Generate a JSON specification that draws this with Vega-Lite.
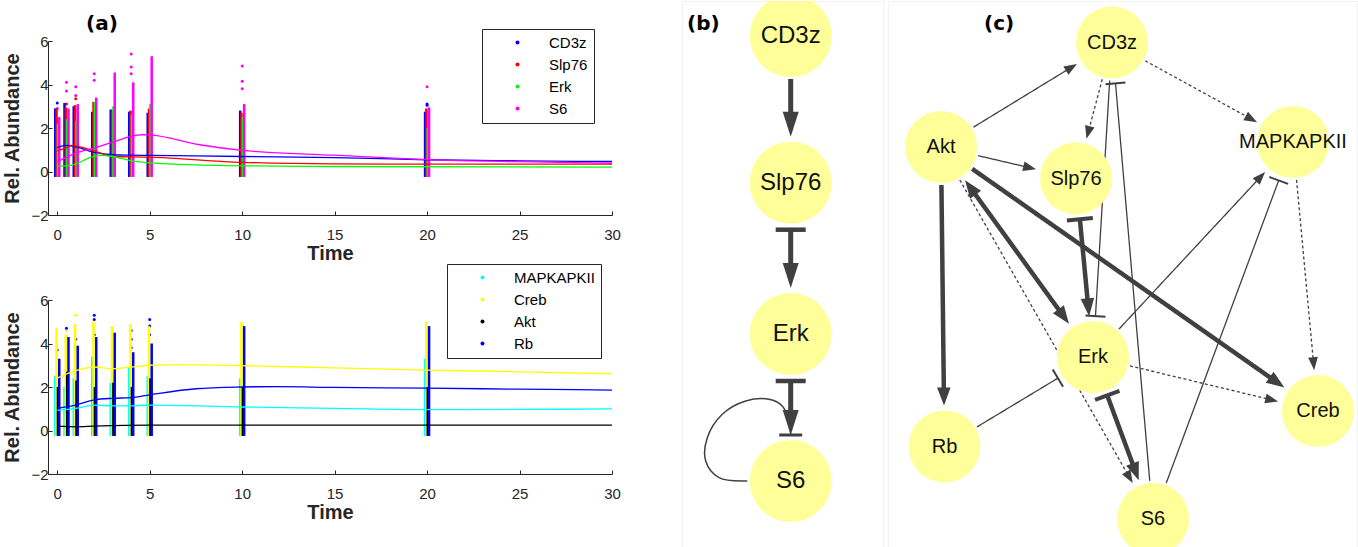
{
  "$schema": "https://vega.github.io/schema/vega-lite/v6.json",
  "background": "white",
  "padding": {"left": 2, "top": 0, "right": 0, "bottom": 0},
  "autosize": {"type": "pad"},
  "config": {
    "view": {"stroke": null},
    "axis": {"grid": false, "domainColor": "#262626", "tickColor": "#262626", "labelColor": "#262626", "titleColor": "#262626", "labelFont": "Liberation Sans", "titleFont": "Liberation Sans", "labelFontSize": 15, "titleFontSize": 20, "titleFontWeight": "bold", "tickSize": -4, "labelFlush": false},
    "axisX": {"labelPadding": 16, "titlePadding": 1},
    "axisY": {"labelPadding": 4, "titlePadding": 8},
    "legend": {"strokeColor": "#262626", "fillColor": "white", "padding": 6, "rowPadding": 6, "symbolType": "circle", "symbolSize": 16, "symbolOffset": 22, "labelOffset": 24, "labelFontSize": 15, "labelFont": "Liberation Sans", "labelColor": "black", "symbolStrokeWidth": 0, "cornerRadius": 0},
    "title": {"font": "DejaVu Sans", "fontSize": 20, "fontWeight": "bold", "color": "black", "anchor": "start", "baseline": "alphabetic", "offset": -33}
  },
  "datasets": {
    "top_strips": [
      {"species": "CD3z", "time": 0, "lo": -0.25, "hi": 2.9}, {"species": "CD3z", "time": 0.5, "lo": -0.25, "hi": 3.15}, {"species": "CD3z", "time": 1, "lo": -0.25, "hi": 3.0}, {"species": "CD3z", "time": 2, "lo": -0.25, "hi": 2.75}, {"species": "CD3z", "time": 3, "lo": -0.25, "hi": 2.85}, {"species": "CD3z", "time": 4, "lo": -0.25, "hi": 2.75}, {"species": "CD3z", "time": 5, "lo": -0.25, "hi": 2.7}, {"species": "CD3z", "time": 10, "lo": -0.25, "hi": 2.8}, {"species": "CD3z", "time": 20, "lo": -0.25, "hi": 2.75},
      {"species": "Slp76", "time": 0, "lo": -0.25, "hi": 2.9}, {"species": "Slp76", "time": 0.5, "lo": -0.25, "hi": 2.95}, {"species": "Slp76", "time": 1, "lo": -0.25, "hi": 3.05}, {"species": "Slp76", "time": 2, "lo": -0.25, "hi": 3.2}, {"species": "Slp76", "time": 3, "lo": -0.25, "hi": 2.8}, {"species": "Slp76", "time": 4, "lo": -0.25, "hi": 2.8}, {"species": "Slp76", "time": 5, "lo": -0.25, "hi": 2.9}, {"species": "Slp76", "time": 10, "lo": -0.25, "hi": 2.7}, {"species": "Slp76", "time": 20, "lo": -0.25, "hi": 2.9},
      {"species": "Erk", "time": 0, "lo": -0.25, "hi": 2.2}, {"species": "Erk", "time": 0.5, "lo": -0.25, "hi": 2.4}, {"species": "Erk", "time": 1, "lo": -0.25, "hi": 2.3}, {"species": "Erk", "time": 2, "lo": -0.25, "hi": 3.2}, {"species": "Erk", "time": 3, "lo": -0.25, "hi": 3.0}, {"species": "Erk", "time": 4, "lo": -0.25, "hi": 2.6}, {"species": "Erk", "time": 5, "lo": -0.25, "hi": 3.1}, {"species": "Erk", "time": 10, "lo": -0.25, "hi": 2.5}, {"species": "Erk", "time": 20, "lo": -0.25, "hi": 2.0},
      {"species": "S6", "time": 0, "lo": -0.25, "hi": 2.5}, {"species": "S6", "time": 0.5, "lo": -0.25, "hi": 2.9}, {"species": "S6", "time": 1, "lo": -0.25, "hi": 3.1}, {"species": "S6", "time": 2, "lo": -0.25, "hi": 3.4}, {"species": "S6", "time": 3, "lo": -0.25, "hi": 4.55}, {"species": "S6", "time": 4, "lo": -0.25, "hi": 4.1}, {"species": "S6", "time": 5, "lo": -0.25, "hi": 5.3}, {"species": "S6", "time": 10, "lo": -0.25, "hi": 3.1}, {"species": "S6", "time": 20, "lo": -0.25, "hi": 2.95}
    ],
    "top_pts": [
      {"species": "CD3z", "time": 0, "value": 3.15}, {"species": "CD3z", "time": 2, "value": 3.1}, {"species": "CD3z", "time": 2, "value": 3.0}, {"species": "CD3z", "time": 20, "value": 3.1}, {"species": "CD3z", "time": 20, "value": 3.05},
      {"species": "Slp76", "time": 0.5, "value": 3.1}, {"species": "Slp76", "time": 1, "value": 3.35},
      {"species": "S6", "time": 0, "value": 2.9}, {"species": "S6", "time": 0.5, "value": 3.7}, {"species": "S6", "time": 0.5, "value": 4.1}, {"species": "S6", "time": 1, "value": 3.5}, {"species": "S6", "time": 1, "value": 3.9}, {"species": "S6", "time": 2, "value": 4.2}, {"species": "S6", "time": 2, "value": 4.5}, {"species": "S6", "time": 4, "value": 4.5}, {"species": "S6", "time": 4, "value": 4.8}, {"species": "S6", "time": 4, "value": 5.4}, {"species": "S6", "time": 10, "value": 3.8}, {"species": "S6", "time": 10, "value": 4.15}, {"species": "S6", "time": 10, "value": 4.85}, {"species": "S6", "time": 20, "value": 3.9}
    ],
    "top_fit": [
      {"species": "CD3z", "time": 0, "value": 1.1}, {"species": "CD3z", "time": 0.5, "value": 1.2}, {"species": "CD3z", "time": 1, "value": 1.13}, {"species": "CD3z", "time": 2, "value": 0.88}, {"species": "CD3z", "time": 3, "value": 0.77}, {"species": "CD3z", "time": 4, "value": 0.75}, {"species": "CD3z", "time": 5, "value": 0.74}, {"species": "CD3z", "time": 10, "value": 0.69}, {"species": "CD3z", "time": 15, "value": 0.64}, {"species": "CD3z", "time": 20, "value": 0.54}, {"species": "CD3z", "time": 25, "value": 0.49}, {"species": "CD3z", "time": 30, "value": 0.46},
      {"species": "Slp76", "time": 0, "value": 0.95}, {"species": "Slp76", "time": 0.5, "value": 1.1}, {"species": "Slp76", "time": 0.8, "value": 1.2}, {"species": "Slp76", "time": 1.3, "value": 1.12}, {"species": "Slp76", "time": 2, "value": 0.95}, {"species": "Slp76", "time": 3, "value": 0.69}, {"species": "Slp76", "time": 5, "value": 0.66}, {"species": "Slp76", "time": 10, "value": 0.42}, {"species": "Slp76", "time": 15, "value": 0.35}, {"species": "Slp76", "time": 20, "value": 0.34}, {"species": "Slp76", "time": 30, "value": 0.34},
      {"species": "Erk", "time": 0, "value": 0.25}, {"species": "Erk", "time": 0.5, "value": 0.26}, {"species": "Erk", "time": 1, "value": 0.34}, {"species": "Erk", "time": 1.7, "value": 0.62}, {"species": "Erk", "time": 2.3, "value": 0.74}, {"species": "Erk", "time": 3, "value": 0.69}, {"species": "Erk", "time": 4, "value": 0.49}, {"species": "Erk", "time": 5, "value": 0.4}, {"species": "Erk", "time": 10, "value": 0.26}, {"species": "Erk", "time": 15, "value": 0.23}, {"species": "Erk", "time": 30, "value": 0.2},
      {"species": "S6", "time": 0, "value": 0.46}, {"species": "S6", "time": 0.5, "value": 0.65}, {"species": "S6", "time": 1, "value": 0.85}, {"species": "S6", "time": 2, "value": 1.08}, {"species": "S6", "time": 3, "value": 1.35}, {"species": "S6", "time": 4, "value": 1.62}, {"species": "S6", "time": 4.6, "value": 1.69}, {"species": "S6", "time": 5, "value": 1.68}, {"species": "S6", "time": 7.7, "value": 1.23}, {"species": "S6", "time": 10, "value": 0.97}, {"species": "S6", "time": 15, "value": 0.75}, {"species": "S6", "time": 20, "value": 0.55}, {"species": "S6", "time": 25, "value": 0.45}, {"species": "S6", "time": 30, "value": 0.38}
    ],
    "bot_strips": [
      {"species": "MAPKAPKII", "time": 0, "lo": -0.25, "hi": 2.5}, {"species": "MAPKAPKII", "time": 0.5, "lo": -0.25, "hi": 2.0}, {"species": "MAPKAPKII", "time": 1, "lo": -0.25, "hi": 2.4}, {"species": "MAPKAPKII", "time": 2, "lo": -0.25, "hi": 3.4}, {"species": "MAPKAPKII", "time": 3, "lo": -0.25, "hi": 2.2}, {"species": "MAPKAPKII", "time": 4, "lo": -0.25, "hi": 2.9}, {"species": "MAPKAPKII", "time": 5, "lo": -0.25, "hi": 2.5}, {"species": "MAPKAPKII", "time": 10, "lo": -0.25, "hi": 2.4}, {"species": "MAPKAPKII", "time": 20, "lo": -0.25, "hi": 3.3},
      {"species": "Creb", "time": 0, "lo": -0.25, "hi": 4.7}, {"species": "Creb", "time": 0.5, "lo": -0.25, "hi": 4.4}, {"species": "Creb", "time": 1, "lo": -0.25, "hi": 4.9}, {"species": "Creb", "time": 2, "lo": -0.25, "hi": 5.0}, {"species": "Creb", "time": 3, "lo": -0.25, "hi": 4.8}, {"species": "Creb", "time": 4, "lo": -0.25, "hi": 4.9}, {"species": "Creb", "time": 5, "lo": -0.25, "hi": 4.8}, {"species": "Creb", "time": 10, "lo": -0.25, "hi": 5.0}, {"species": "Creb", "time": 20, "lo": -0.25, "hi": 5.0},
      {"species": "Akt", "time": 0, "lo": -0.25, "hi": 2.0}, {"species": "Akt", "time": 0.5, "lo": -0.25, "hi": 2.7}, {"species": "Akt", "time": 1, "lo": -0.25, "hi": 2.3}, {"species": "Akt", "time": 2, "lo": -0.25, "hi": 2.0}, {"species": "Akt", "time": 3, "lo": -0.25, "hi": 2.2}, {"species": "Akt", "time": 4, "lo": -0.25, "hi": 2.0}, {"species": "Akt", "time": 5, "lo": -0.25, "hi": 2.4}, {"species": "Akt", "time": 10, "lo": -0.25, "hi": 2.0}, {"species": "Akt", "time": 20, "lo": -0.25, "hi": 2.0},
      {"species": "Rb", "time": 0, "lo": -0.25, "hi": 3.3}, {"species": "Rb", "time": 0.5, "lo": -0.25, "hi": 4.3}, {"species": "Rb", "time": 1, "lo": -0.25, "hi": 3.9}, {"species": "Rb", "time": 2, "lo": -0.25, "hi": 4.3}, {"species": "Rb", "time": 3, "lo": -0.25, "hi": 4.5}, {"species": "Rb", "time": 4, "lo": -0.25, "hi": 3.6}, {"species": "Rb", "time": 5, "lo": -0.25, "hi": 4.0}, {"species": "Rb", "time": 10, "lo": -0.25, "hi": 4.8}, {"species": "Rb", "time": 20, "lo": -0.25, "hi": 4.8}
    ],
    "bot_pts": [
      {"species": "Creb", "time": 1, "value": 5.3}, {"species": "Creb", "time": 2, "value": 5.1}, {"species": "Creb", "time": 0.5, "value": 4.6},
      {"species": "Rb", "time": 0, "value": 3.7}, {"species": "Rb", "time": 0.5, "value": 4.7}, {"species": "Rb", "time": 1, "value": 4.2}, {"species": "Rb", "time": 2, "value": 4.4}, {"species": "Rb", "time": 2, "value": 5.1}, {"species": "Rb", "time": 2, "value": 5.3}, {"species": "Rb", "time": 4, "value": 3.8}, {"species": "Rb", "time": 4, "value": 4.2}, {"species": "Rb", "time": 4, "value": 4.6}, {"species": "Rb", "time": 5, "value": 4.4}, {"species": "Rb", "time": 5, "value": 4.8}, {"species": "Rb", "time": 5, "value": 5.1}
    ],
    "bot_fit": [
      {"species": "MAPKAPKII", "time": 0, "value": 0.93}, {"species": "MAPKAPKII", "time": 1, "value": 1.02}, {"species": "MAPKAPKII", "time": 2, "value": 1.17}, {"species": "MAPKAPKII", "time": 3, "value": 1.13}, {"species": "MAPKAPKII", "time": 4, "value": 1.13}, {"species": "MAPKAPKII", "time": 5, "value": 1.17}, {"species": "MAPKAPKII", "time": 10, "value": 1.08}, {"species": "MAPKAPKII", "time": 15, "value": 1.02}, {"species": "MAPKAPKII", "time": 20, "value": 0.96}, {"species": "MAPKAPKII", "time": 25, "value": 0.97}, {"species": "MAPKAPKII", "time": 30, "value": 0.99},
      {"species": "Creb", "time": 0, "value": 2.41}, {"species": "Creb", "time": 1, "value": 2.75}, {"species": "Creb", "time": 2, "value": 2.92}, {"species": "Creb", "time": 3, "value": 2.84}, {"species": "Creb", "time": 4, "value": 2.92}, {"species": "Creb", "time": 5, "value": 3.0}, {"species": "Creb", "time": 6.8, "value": 3.03}, {"species": "Creb", "time": 10, "value": 2.98}, {"species": "Creb", "time": 15, "value": 2.88}, {"species": "Creb", "time": 20, "value": 2.78}, {"species": "Creb", "time": 25, "value": 2.7}, {"species": "Creb", "time": 30, "value": 2.61},
      {"species": "Akt", "time": 0, "value": 0.2}, {"species": "Akt", "time": 1, "value": 0.17}, {"species": "Akt", "time": 2, "value": 0.2}, {"species": "Akt", "time": 5, "value": 0.25}, {"species": "Akt", "time": 10, "value": 0.25}, {"species": "Akt", "time": 30, "value": 0.25},
      {"species": "Rb", "time": 0, "value": 1.02}, {"species": "Rb", "time": 1, "value": 1.17}, {"species": "Rb", "time": 2, "value": 1.41}, {"species": "Rb", "time": 3, "value": 1.48}, {"species": "Rb", "time": 4, "value": 1.51}, {"species": "Rb", "time": 5, "value": 1.64}, {"species": "Rb", "time": 7.5, "value": 1.92}, {"species": "Rb", "time": 10, "value": 2.0}, {"species": "Rb", "time": 12, "value": 2.02}, {"species": "Rb", "time": 15, "value": 1.98}, {"species": "Rb", "time": 20, "value": 1.95}, {"species": "Rb", "time": 25, "value": 1.9}, {"species": "Rb", "time": 30, "value": 1.86}
    ],
    "b_nodes": [
      {"id": "CD3z", "x": 108.7, "y": 35}, {"id": "Slp76", "x": 108.7, "y": 181.7}, {"id": "Erk", "x": 108.7, "y": 333}, {"id": "S6", "x": 108.7, "y": 480}
    ],
    "b_edges": [
      {"source": "CD3z", "target": "Slp76", "head": "arrow", "tail": "none"},
      {"source": "Slp76", "target": "Erk", "head": "arrow", "tail": "bar"},
      {"source": "Erk", "target": "S6", "head": "arrow", "tail": "bar"}
    ],
    "b_loop": [
      {"seq": 1, "x": 65.3, "y": 480}, {"seq": 2, "x": 37, "y": 476.7}, {"seq": 3, "x": 23.7, "y": 460}, {"seq": 4, "x": 25.3, "y": 436.7}, {"seq": 5, "x": 40.3, "y": 413.3}, {"seq": 6, "x": 63.7, "y": 400}, {"seq": 7, "x": 87, "y": 398.3}, {"seq": 8, "x": 100.3, "y": 405}, {"seq": 9, "x": 107, "y": 420}, {"seq": 10, "x": 108.7, "y": 434}
    ],
    "c_nodes": [
      {"id": "CD3z", "x": 224, "y": 41.5}, {"id": "Akt", "x": 53, "y": 146}, {"id": "Slp76", "x": 188, "y": 177.5}, {"id": "MAPKAPKII", "x": 405, "y": 141}, {"id": "Erk", "x": 205, "y": 356}, {"id": "Rb", "x": 56.5, "y": 445.5}, {"id": "Creb", "x": 430, "y": 410}, {"id": "S6", "x": 265, "y": 517.7}
    ],
    "c_edges": [
      {"source": "Akt", "target": "CD3z", "style": "solid", "weight": "thin", "head": "arrow", "tail": "none"},
      {"source": "Akt", "target": "Slp76", "style": "solid", "weight": "thin", "head": "arrow", "tail": "none"},
      {"source": "CD3z", "target": "Slp76", "style": "dotted", "weight": "thin", "head": "arrow", "tail": "none"},
      {"source": "CD3z", "target": "MAPKAPKII", "style": "dotted", "weight": "thin", "head": "arrow", "tail": "none"},
      {"source": "Akt", "target": "Rb", "style": "solid", "weight": "thick", "head": "arrow", "tail": "none"},
      {"source": "Akt", "target": "Erk", "style": "solid", "weight": "thick", "head": "arrow", "tail": "arrow"},
      {"source": "Akt", "target": "Creb", "style": "solid", "weight": "thick", "head": "arrow", "tail": "none"},
      {"source": "Akt", "target": "S6", "style": "dotted", "weight": "thin", "head": "arrow", "tail": "none"},
      {"source": "Slp76", "target": "Erk", "style": "solid", "weight": "thick", "head": "arrow", "tail": "bar"},
      {"source": "CD3z", "target": "Erk", "style": "solid", "weight": "thin", "head": "bar", "tail": "none"},
      {"source": "Erk", "target": "MAPKAPKII", "style": "solid", "weight": "thin", "head": "arrow", "tail": "none"},
      {"source": "S6", "target": "MAPKAPKII", "style": "solid", "weight": "thin", "head": "bar", "tail": "none"},
      {"source": "MAPKAPKII", "target": "Creb", "style": "dotted", "weight": "thin", "head": "arrow", "tail": "none"},
      {"source": "Erk", "target": "Creb", "style": "dotted", "weight": "thin", "head": "arrow", "tail": "none"},
      {"source": "Rb", "target": "Erk", "style": "solid", "weight": "thin", "head": "bar", "tail": "none"},
      {"source": "Erk", "target": "S6", "style": "solid", "weight": "thick", "head": "arrow", "tail": "bar"},
      {"source": "S6", "target": "CD3z", "style": "solid", "weight": "thin", "head": "bar", "tail": "none"}
    ]
  },
  "bounds": "flush",
  "spacing": 634,
  "hconcat": [
    {
      "bounds": "flush",
      "spacing": 0,
      "vconcat": [
        {
          "width": 564,
          "height": 40,
          "title": {"text": "(a)", "dx": 38},
          "data": {"values": [{"k": 1}]},
          "mark": {"type": "point", "opacity": 0}
        },
        {
          "bounds": "flush",
          "spacing": 85,
          "resolve": {"scale": {"color": "independent"}, "legend": {"color": "independent"}},
          "vconcat": [
            {
              "width": 564,
              "height": 174,
              "encoding": {
                "x": {"field": "time", "type": "quantitative", "scale": {"domain": [-0.5, 30], "nice": false, "zero": false}, "axis": {"title": "Time", "values": [0, 5, 10, 15, 20, 25, 30]}},
                "color": {"field": "species", "type": "nominal", "scale": {"domain": ["CD3z", "Slp76", "Erk", "S6"], "range": ["#0000ff", "#ff0000", "#00ff00", "#ff00ff"]}, "legend": {"title": null, "orient": "none", "legendX": 434, "legendY": -12}}
              },
              "layer": [
                {"data": {"name": "top_pts"}, "mark": {"type": "circle", "size": 9, "opacity": 1}, "encoding": {"y": {"field": "value", "type": "quantitative", "scale": {"domain": [-2, 6], "nice": false, "zero": false}, "axis": {"title": "Rel. Abundance", "values": [-2, 0, 2, 4, 6]}}}},
                {"data": {"name": "top_strips"}, "transform": [{"filter": "datum.species == 'CD3z'"}], "mark": {"type": "rule", "strokeWidth": 2.5, "xOffset": -2}, "encoding": {"y": {"field": "lo", "type": "quantitative", "scale": {"domain": [-2, 6], "nice": false, "zero": false}, "axis": {"title": "Rel. Abundance", "values": [-2, 0, 2, 4, 6]}}, "y2": {"field": "hi"}}},
                {"data": {"name": "top_strips"}, "transform": [{"filter": "datum.species == 'Slp76'"}], "mark": {"type": "rule", "strokeWidth": 2.5, "xOffset": -0.7}, "encoding": {"y": {"field": "lo", "type": "quantitative", "scale": {"domain": [-2, 6], "nice": false, "zero": false}, "axis": {"title": "Rel. Abundance", "values": [-2, 0, 2, 4, 6]}}, "y2": {"field": "hi"}}},
                {"data": {"name": "top_strips"}, "transform": [{"filter": "datum.species == 'Erk'"}], "mark": {"type": "rule", "strokeWidth": 2.5, "xOffset": 0.7}, "encoding": {"y": {"field": "lo", "type": "quantitative", "scale": {"domain": [-2, 6], "nice": false, "zero": false}, "axis": {"title": "Rel. Abundance", "values": [-2, 0, 2, 4, 6]}}, "y2": {"field": "hi"}}},
                {"data": {"name": "top_strips"}, "transform": [{"filter": "datum.species == 'S6'"}], "mark": {"type": "rule", "strokeWidth": 2.5, "xOffset": 2}, "encoding": {"y": {"field": "lo", "type": "quantitative", "scale": {"domain": [-2, 6], "nice": false, "zero": false}, "axis": {"title": "Rel. Abundance", "values": [-2, 0, 2, 4, 6]}}, "y2": {"field": "hi"}}},
                {"data": {"name": "top_fit"}, "mark": {"type": "line", "interpolate": "monotone", "strokeWidth": 1.3}, "encoding": {"y": {"field": "value", "type": "quantitative", "scale": {"domain": [-2, 6], "nice": false, "zero": false}, "axis": {"title": "Rel. Abundance", "values": [-2, 0, 2, 4, 6]}}}}
              ]
            },
            {
              "width": 564,
              "height": 174,
              "encoding": {
                "x": {"field": "time", "type": "quantitative", "scale": {"domain": [-0.5, 30], "nice": false, "zero": false}, "axis": {"title": "Time", "values": [0, 5, 10, 15, 20, 25, 30]}},
                "color": {"field": "species", "type": "nominal", "scale": {"domain": ["MAPKAPKII", "Creb", "Akt", "Rb"], "range": ["#00ffff", "#ffff00", "#000000", "#0000ff"]}, "legend": {"title": null, "orient": "none", "legendX": 399, "legendY": -36}}
              },
              "layer": [
                {"data": {"name": "bot_pts"}, "mark": {"type": "circle", "size": 9, "opacity": 1}, "encoding": {"y": {"field": "value", "type": "quantitative", "scale": {"domain": [-2, 6], "nice": false, "zero": false}, "axis": {"title": "Rel. Abundance", "values": [-2, 0, 2, 4, 6]}}}},
                {"data": {"name": "bot_strips"}, "transform": [{"filter": "datum.species == 'MAPKAPKII'"}], "mark": {"type": "rule", "strokeWidth": 2.5, "xOffset": -2}, "encoding": {"y": {"field": "lo", "type": "quantitative", "scale": {"domain": [-2, 6], "nice": false, "zero": false}, "axis": {"title": "Rel. Abundance", "values": [-2, 0, 2, 4, 6]}}, "y2": {"field": "hi"}}},
                {"data": {"name": "bot_strips"}, "transform": [{"filter": "datum.species == 'Creb'"}], "mark": {"type": "rule", "strokeWidth": 2.5, "xOffset": -0.7}, "encoding": {"y": {"field": "lo", "type": "quantitative", "scale": {"domain": [-2, 6], "nice": false, "zero": false}, "axis": {"title": "Rel. Abundance", "values": [-2, 0, 2, 4, 6]}}, "y2": {"field": "hi"}}},
                {"data": {"name": "bot_strips"}, "transform": [{"filter": "datum.species == 'Akt'"}], "mark": {"type": "rule", "strokeWidth": 2.5, "xOffset": 0.7}, "encoding": {"y": {"field": "lo", "type": "quantitative", "scale": {"domain": [-2, 6], "nice": false, "zero": false}, "axis": {"title": "Rel. Abundance", "values": [-2, 0, 2, 4, 6]}}, "y2": {"field": "hi"}}},
                {"data": {"name": "bot_strips"}, "transform": [{"filter": "datum.species == 'Rb'"}], "mark": {"type": "rule", "strokeWidth": 2.5, "xOffset": 2}, "encoding": {"y": {"field": "lo", "type": "quantitative", "scale": {"domain": [-2, 6], "nice": false, "zero": false}, "axis": {"title": "Rel. Abundance", "values": [-2, 0, 2, 4, 6]}}, "y2": {"field": "hi"}}},
                {"data": {"name": "bot_fit"}, "mark": {"type": "line", "interpolate": "monotone", "strokeWidth": 1.3}, "encoding": {"y": {"field": "value", "type": "quantitative", "scale": {"domain": [-2, 6], "nice": false, "zero": false}, "axis": {"title": "Rel. Abundance", "values": [-2, 0, 2, 4, 6]}}}}
              ]
            }
          ]
        }
      ]
    },
    {
      "bounds": "flush",
      "spacing": 5,
      "hconcat": [
        {
          "width": 201,
          "height": 547,
          "view": {"stroke": "#f3f3f3"},
          "title": {"text": "(b)", "dx": 5},
          "layer": [
            {
              "data": {"name": "b_edges"},
              "transform": [
                {"lookup": "source", "from": {"data": {"name": "b_nodes"}, "key": "id", "fields": ["x", "y"]}, "as": ["sx", "sy"]},
                {"lookup": "target", "from": {"data": {"name": "b_nodes"}, "key": "id", "fields": ["x", "y"]}, "as": ["tx", "ty"]},
                {"calculate": "datum.tx - datum.sx", "as": "dx"},
                {"calculate": "datum.ty - datum.sy", "as": "dy"},
                {"calculate": "sqrt(datum.dx * datum.dx + datum.dy * datum.dy)", "as": "len"},
                {"calculate": "datum.dx / datum.len", "as": "ux"},
                {"calculate": "datum.dy / datum.len", "as": "uy"},
                {"calculate": "atan2(datum.dx, -datum.dy) * 180 / PI", "as": "ang"},
                {"calculate": "datum.tail == 'bar' ? 47 : 43", "as": "r0"},
                {"calculate": "datum.head == 'bar' ? 47 : 58.5", "as": "r1"},
                {"calculate": "datum.sx + datum.ux * datum.r0", "as": "x1"},
                {"calculate": "datum.sy + datum.uy * datum.r0", "as": "y1"},
                {"calculate": "datum.tx - datum.ux * datum.r1", "as": "x2"},
                {"calculate": "datum.ty - datum.uy * datum.r1", "as": "y2"}
              ],
              "layer": [
                {"mark": {"type": "rule", "color": "#404040", "strokeWidth": 5, "clip": true}, "encoding": {"x": {"field": "x1", "type": "quantitative", "scale": {"domain": [0, 201], "nice": false, "zero": false}, "axis": null}, "y": {"field": "y1", "type": "quantitative", "scale": {"domain": [0, 547], "nice": false, "zero": false, "reverse": true}, "axis": null}, "x2": {"field": "x2"}, "y2": {"field": "y2"}}},
                {"transform": [{"filter": "datum.head == 'arrow'"}], "mark": {"type": "point", "shape": "M0,-1L0.64,1L-0.64,1Z", "size": 625, "filled": true, "color": "#404040", "opacity": 1, "clip": true}, "encoding": {"x": {"field": "x2", "type": "quantitative", "scale": {"domain": [0, 201], "nice": false, "zero": false}, "axis": null}, "y": {"field": "y2", "type": "quantitative", "scale": {"domain": [0, 547], "nice": false, "zero": false, "reverse": true}, "axis": null}, "angle": {"field": "ang", "type": "quantitative", "scale": null}}},
                {"transform": [{"filter": "datum.tail == 'bar'"}], "mark": {"type": "point", "shape": "M-1,0L1,0", "size": 900, "filled": false, "color": "#404040", "strokeWidth": 4.5, "opacity": 1, "clip": true}, "encoding": {"x": {"field": "x1", "type": "quantitative", "scale": {"domain": [0, 201], "nice": false, "zero": false}, "axis": null}, "y": {"field": "y1", "type": "quantitative", "scale": {"domain": [0, 547], "nice": false, "zero": false, "reverse": true}, "axis": null}, "angle": {"field": "ang", "type": "quantitative", "scale": null}}}
              ]
            },
            {
              "data": {"name": "b_loop"},
              "layer": [
                {"mark": {"type": "line", "interpolate": "catmull-rom", "color": "#404040", "strokeWidth": 1.5, "clip": true}, "encoding": {"x": {"field": "x", "type": "quantitative", "scale": {"domain": [0, 201], "nice": false, "zero": false}, "axis": null}, "y": {"field": "y", "type": "quantitative", "scale": {"domain": [0, 547], "nice": false, "zero": false, "reverse": true}, "axis": null}, "order": {"field": "seq", "type": "quantitative"}}},
                {"transform": [{"filter": "datum.seq == 10"}], "mark": {"type": "point", "shape": "M-1,0L1,0", "size": 529, "filled": false, "color": "#404040", "strokeWidth": 3, "opacity": 1, "clip": true}, "encoding": {"x": {"field": "x", "type": "quantitative", "scale": {"domain": [0, 201], "nice": false, "zero": false}, "axis": null}, "y": {"field": "y", "type": "quantitative", "scale": {"domain": [0, 547], "nice": false, "zero": false, "reverse": true}, "axis": null}}}
              ]
            },
            {
              "data": {"name": "b_nodes"},
              "layer": [
                {"mark": {"type": "circle", "size": 6724, "color": "#ffff99", "opacity": 1, "clip": true}, "encoding": {"x": {"field": "x", "type": "quantitative", "scale": {"domain": [0, 201], "nice": false, "zero": false}, "axis": null}, "y": {"field": "y", "type": "quantitative", "scale": {"domain": [0, 547], "nice": false, "zero": false, "reverse": true}, "axis": null}}},
                {"mark": {"type": "text", "font": "Liberation Sans", "fontSize": 24, "color": "#111111", "clip": true}, "encoding": {"x": {"field": "x", "type": "quantitative", "scale": {"domain": [0, 201], "nice": false, "zero": false}, "axis": null}, "y": {"field": "y", "type": "quantitative", "scale": {"domain": [0, 547], "nice": false, "zero": false, "reverse": true}, "axis": null}, "text": {"field": "id"}}}
              ]
            }
          ]
        },
        {
          "width": 469,
          "height": 547,
          "view": {"stroke": "#f3f3f3"},
          "title": {"text": "(c)", "dx": 96},
          "layer": [
            {
              "data": {"name": "c_edges"},
              "transform": [
                {"lookup": "source", "from": {"data": {"name": "c_nodes"}, "key": "id", "fields": ["x", "y"]}, "as": ["sx", "sy"]},
                {"lookup": "target", "from": {"data": {"name": "c_nodes"}, "key": "id", "fields": ["x", "y"]}, "as": ["tx", "ty"]},
                {"calculate": "datum.tx - datum.sx", "as": "dx"},
                {"calculate": "datum.ty - datum.sy", "as": "dy"},
                {"calculate": "sqrt(datum.dx * datum.dx + datum.dy * datum.dy)", "as": "len"},
                {"calculate": "datum.dx / datum.len", "as": "ux"},
                {"calculate": "datum.dy / datum.len", "as": "uy"},
                {"calculate": "atan2(datum.dx, -datum.dy) * 180 / PI", "as": "ang"},
                {"calculate": "datum.ang + 180", "as": "angBack"},
                {"calculate": "datum.weight == 'thick' ? 9 : 6.5", "as": "hs"},
                {"calculate": "datum.tail == 'bar' ? 41 : (datum.tail == 'arrow' ? 41 + datum.hs : 38)", "as": "r0"},
                {"calculate": "datum.head == 'bar' ? 41 : 41 + datum.hs", "as": "r1"},
                {"calculate": "datum.sx + datum.ux * datum.r0", "as": "x1"},
                {"calculate": "datum.sy + datum.uy * datum.r0", "as": "y1"},
                {"calculate": "datum.tx - datum.ux * datum.r1", "as": "x2"},
                {"calculate": "datum.ty - datum.uy * datum.r1", "as": "y2"}
              ],
              "layer": [
                {"mark": {"type": "rule", "color": "#404040", "clip": true}, "encoding": {"x": {"field": "x1", "type": "quantitative", "scale": {"domain": [0, 469], "nice": false, "zero": false}, "axis": null}, "y": {"field": "y1", "type": "quantitative", "scale": {"domain": [0, 547], "nice": false, "zero": false, "reverse": true}, "axis": null}, "x2": {"field": "x2"}, "y2": {"field": "y2"}, "strokeWidth": {"field": "weight", "type": "nominal", "scale": {"domain": ["thick", "thin"], "range": [4.5, 1.3]}, "legend": null}, "strokeDash": {"field": "style", "type": "nominal", "scale": {"domain": ["solid", "dotted"], "range": [[1, 0], [3, 2.5]]}, "legend": null}}},
                {"transform": [{"filter": "datum.head == 'arrow'"}], "mark": {"type": "point", "shape": "M0,-1L0.75,1L-0.75,1Z", "filled": true, "color": "#404040", "opacity": 1, "clip": true}, "encoding": {"x": {"field": "x2", "type": "quantitative", "scale": {"domain": [0, 469], "nice": false, "zero": false}, "axis": null}, "y": {"field": "y2", "type": "quantitative", "scale": {"domain": [0, 547], "nice": false, "zero": false, "reverse": true}, "axis": null}, "angle": {"field": "ang", "type": "quantitative", "scale": null}, "size": {"field": "weight", "type": "nominal", "scale": {"domain": ["thick", "thin"], "range": [324, 169]}, "legend": null}}},
                {"transform": [{"filter": "datum.tail == 'arrow'"}], "mark": {"type": "point", "shape": "M0,-1L0.75,1L-0.75,1Z", "filled": true, "color": "#404040", "opacity": 1, "clip": true}, "encoding": {"x": {"field": "x1", "type": "quantitative", "scale": {"domain": [0, 469], "nice": false, "zero": false}, "axis": null}, "y": {"field": "y1", "type": "quantitative", "scale": {"domain": [0, 547], "nice": false, "zero": false, "reverse": true}, "axis": null}, "angle": {"field": "angBack", "type": "quantitative", "scale": null}, "size": {"field": "weight", "type": "nominal", "scale": {"domain": ["thick", "thin"], "range": [324, 169]}, "legend": null}}},
                {"transform": [{"filter": "datum.head == 'bar'"}], "mark": {"type": "point", "shape": "M-1,0L1,0", "filled": false, "color": "#404040", "opacity": 1, "strokeWidth": 2, "clip": true}, "encoding": {"x": {"field": "x2", "type": "quantitative", "scale": {"domain": [0, 469], "nice": false, "zero": false}, "axis": null}, "y": {"field": "y2", "type": "quantitative", "scale": {"domain": [0, 547], "nice": false, "zero": false, "reverse": true}, "axis": null}, "angle": {"field": "ang", "type": "quantitative", "scale": null}, "size": {"value": 400}}},
                {"transform": [{"filter": "datum.tail == 'bar'"}], "mark": {"type": "point", "shape": "M-1,0L1,0", "filled": false, "color": "#404040", "opacity": 1, "strokeWidth": 4, "clip": true}, "encoding": {"x": {"field": "x1", "type": "quantitative", "scale": {"domain": [0, 469], "nice": false, "zero": false}, "axis": null}, "y": {"field": "y1", "type": "quantitative", "scale": {"domain": [0, 547], "nice": false, "zero": false, "reverse": true}, "axis": null}, "angle": {"field": "ang", "type": "quantitative", "scale": null}, "size": {"value": 676}}}
              ]
            },
            {
              "data": {"name": "c_nodes"},
              "layer": [
                {"mark": {"type": "circle", "size": 5184, "color": "#ffff99", "opacity": 1, "clip": true}, "encoding": {"x": {"field": "x", "type": "quantitative", "scale": {"domain": [0, 469], "nice": false, "zero": false}, "axis": null}, "y": {"field": "y", "type": "quantitative", "scale": {"domain": [0, 547], "nice": false, "zero": false, "reverse": true}, "axis": null}}},
                {"mark": {"type": "text", "font": "Liberation Sans", "fontSize": 20, "color": "#111111", "clip": true}, "encoding": {"x": {"field": "x", "type": "quantitative", "scale": {"domain": [0, 469], "nice": false, "zero": false}, "axis": null}, "y": {"field": "y", "type": "quantitative", "scale": {"domain": [0, 547], "nice": false, "zero": false, "reverse": true}, "axis": null}, "text": {"field": "id"}}}
              ]
            }
          ]
        }
      ]
    }
  ]
}
